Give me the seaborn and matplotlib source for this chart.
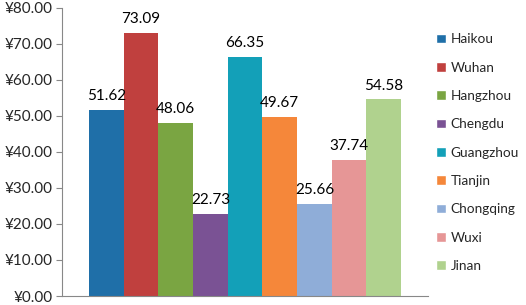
import pandas as pd
import seaborn as sns
import matplotlib.pyplot as plt
from matplotlib.patches import Patch

cities = ['Haikou', 'Wuhan', 'Hangzhou', 'Chengdu', 'Guangzhou', 'Tianjin', 'Chongqing', 'Wuxi', 'Jinan']
prices = [51.62, 73.09, 48.06, 22.73, 66.35, 49.67, 25.66, 37.74, 54.58]
colors = ['#1f6fa8', '#c0403e', '#7aa542', '#7a5294', '#13a0b8', '#f5873a', '#8fadd8', '#e69696', '#b0d28e']
yticks = [0, 10, 20, 30, 40, 50, 60, 70, 80]

df = pd.DataFrame({'city': cities, 'price': prices})

sns.set_style('white')
plt.rcParams['font.family'] = ['Lato', 'DejaVu Sans']

fig = plt.figure(figsize=(5.26, 3.05), dpi=100)
ax = fig.add_axes([0.118, 0.0295, 0.696, 0.9445])

sns.barplot(data=df, x='city', y='price', hue='city', palette=colors, width=1.0,
            saturation=1, legend=False, linewidth=0, ax=ax)

for c in ax.containers:
    ax.bar_label(c, fmt='%.2f', padding=5, fontsize=11, color='black')

ax.set_ylim(0, 80)
ax.set_xlim(-1.28, 9.28)
ax.set_yticks(yticks)
ax.set_yticklabels(['\u00a5%.2f' % v for v in yticks], fontsize=11)
ax.set_xticks([])
ax.set_xlabel('')
ax.set_ylabel('')
ax.tick_params(axis='y', direction='out', length=4, color='#888888', left=True, pad=3)
for s in ['top', 'right']:
    ax.spines[s].set_visible(False)
for s in ['left', 'bottom']:
    ax.spines[s].set_color('#888888')
    ax.spines[s].set_linewidth(0.8)

handles = [Patch(facecolor=col, label=name) for col, name in zip(colors, cities)]
fig.legend(handles=handles, loc='upper left', bbox_to_anchor=(0.824, 0.9),
           frameon=False, fontsize=9.8, handlelength=0.7, handleheight=0.7,
           handletextpad=0.35, labelspacing=1.2, borderaxespad=0, borderpad=0.2)

fig.savefig('out.png', dpi=100)
